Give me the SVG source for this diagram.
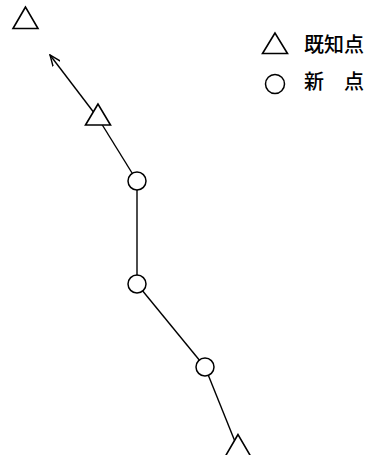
<svg xmlns="http://www.w3.org/2000/svg" width="377" height="455" viewBox="0 0 377 455">
<style>
.ln{stroke:#000;stroke-width:1.4;fill:none}
.tri{fill:#fff;stroke:#000;stroke-width:1.6;stroke-linejoin:miter}
.cir{fill:#fff;stroke:#000;stroke-width:1.5}
.lbl{font-family:"Noto Sans CJK JP","Noto Sans CJK SC",sans-serif;font-size:20px;font-weight:500;fill:#000}
</style>
<defs>
<marker id="arr" viewBox="0 0 12 10" refX="11" refY="5" markerWidth="12" markerHeight="10" markerUnits="userSpaceOnUse" orient="auto">
<path d="M0,0.5 L11,5 L0,9.5" fill="none" stroke="#000" stroke-width="1.4"/>
</marker>
</defs>
<rect width="377" height="455" fill="#fff"/>
<g id="connectors">
<line class="ln" x1="98" y1="118" x2="50" y2="55" marker-end="url(#arr)"/>
<line class="ln" x1="98" y1="118" x2="137" y2="181"/>
<line class="ln" x1="137" y1="181" x2="137" y2="284"/>
<line class="ln" x1="137" y1="284" x2="205" y2="367"/>
<line class="ln" x1="205" y1="367" x2="238" y2="449"/>
</g>
<g id="known1"><polygon class="tri" points="25.5,7 13,28.5 38,28.5"/></g>
<g id="known2"><polygon class="tri" points="98,104 85.5,125 110.5,125"/></g>
<g id="known3"><polygon class="tri" points="238,434.5 225.5,456 250.5,456"/></g>
<g id="new1"><circle class="cir" cx="137" cy="181" r="9"/></g>
<g id="new2"><circle class="cir" cx="137" cy="284" r="9"/></g>
<g id="new3"><circle class="cir" cx="205" cy="367" r="9"/></g>
<g id="legend">
<polygon class="tri" points="275,33 262.5,53.5 287.5,53.5"/>
<circle class="cir" cx="275" cy="84" r="9.5"/>
<text class="lbl" x="304" y="52">既知点</text>
<text class="lbl" x="304" y="89">新　点</text>
</g>
</svg>
